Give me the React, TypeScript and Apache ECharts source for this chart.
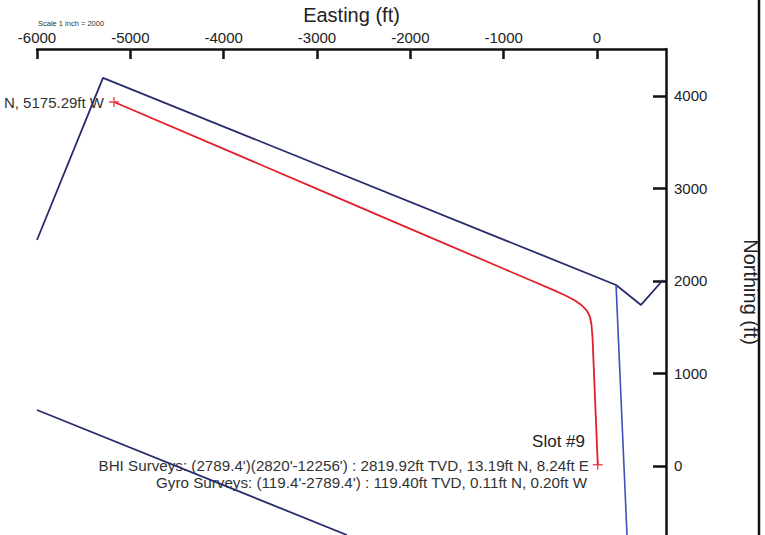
import React, { useEffect, useRef } from "react";
import * as echarts from "echarts";

// Axis ticks
const eastingTicks = [-6000, -5000, -4000, -3000, -2000, -1000, 0];
const northingTicks = [0, 1000, 2000, 3000, 4000];

// Wellpath (red) – Easting / Northing (ft)
const wellEast = [-5175, -4000, -3000, -2000, -1000, -718, -471, -343, -236, -161, -107, -75, -59, -48, 8];
const wellNorth = [3935, 3428, 2996, 2564, 2132, 2011, 1904, 1846, 1789, 1735, 1676, 1611, 1524, 1384, 13];

// Lease / boundary lines
const boundAEast = [-6000, -5293, 204, 471, 707];
const boundANorth = [2443, 4195, 1957, 1741, 2011];
const boundBEast = [204, 321];
const boundBNorth = [1957, -746];
const boundCEast = [-6000, -2679];
const boundCNorth = [605, -746];

// End markers
const markEast = [-5175, 8];
const markNorth = [3935, 13];

const zip = (xs: number[], ys: number[]) => xs.map((x, i) => [x, ys[i]]);

const FONT = "Liberation Sans, Arial, sans-serif";
const PLUS = "path://M4.3,0H5.7V4.3H10V5.7H5.7V10H4.3V5.7H0V4.3H4.3Z";

export default function App() {
  const ref = useRef<HTMLDivElement>(null);
  useEffect(() => {
    if (!ref.current) return;
    const chart = echarts.init(ref.current, null, { renderer: "svg" });
    chart.setOption({
      animation: false,
      backgroundColor: "#ffffff",
      textStyle: { fontFamily: FONT },
      grid: { left: 37, right: 99, top: 49, bottom: 0, containLabel: false, outerBoundsMode: "none" },
      xAxis: {
        type: "value",
        position: "top",
        min: -6000,
        max: 739,
        name: "Easting (ft)",
        nameLocation: "middle",
        nameGap: 24,
        nameTextStyle: { fontSize: 20, color: "#222", fontFamily: FONT },
        axisLine: { show: true, onZero: false, lineStyle: { color: "#111", width: 2.5 } },
        axisTick: { show: true, inside: true, length: 10, lineStyle: { color: "#111", width: 2.5 }, customValues: eastingTicks },
        axisLabel: {
          show: true,
          margin: 4,
          fontSize: 15,
          color: "#222",
          fontFamily: FONT,
          customValues: eastingTicks,
          formatter: (v: number) => String(v),
        },
        splitLine: { show: false },
      },
      yAxis: {
        type: "value",
        position: "right",
        min: -746,
        max: 4508,
        name: "Northing (ft)",
        nameLocation: "middle",
        nameRotate: -90,
        nameGap: 75,
        nameTextStyle: { fontSize: 20, color: "#222", fontFamily: FONT },
        axisLine: { show: true, onZero: false, lineStyle: { color: "#111", width: 2.5 } },
        axisTick: { show: true, inside: true, length: 13, lineStyle: { color: "#111", width: 2.5 }, customValues: northingTicks },
        axisLabel: {
          show: true,
          margin: 8,
          fontSize: 15,
          color: "#222",
          fontFamily: FONT,
          customValues: northingTicks,
          formatter: (v: number) => String(v),
        },
        splitLine: { show: false },
      },
      series: [
        {
          type: "line",
          name: "Boundary A",
          data: zip(boundAEast, boundANorth),
          showSymbol: false,
          lineStyle: { color: "#262c6c", width: 1.8 },
          z: 2,
        },
        {
          type: "line",
          name: "Boundary B",
          data: zip(boundBEast, boundBNorth),
          showSymbol: false,
          lineStyle: { color: "#3b52b8", width: 1.6 },
          z: 2,
        },
        {
          type: "line",
          name: "Boundary C",
          data: zip(boundCEast, boundCNorth),
          showSymbol: false,
          lineStyle: { color: "#262c6c", width: 1.8 },
          z: 2,
        },
        {
          type: "line",
          name: "Wellpath",
          data: zip(wellEast, wellNorth),
          showSymbol: false,
          lineStyle: { color: "#e3202a", width: 1.8 },
          z: 3,
        },
        {
          type: "scatter",
          name: "Markers",
          data: zip(markEast, markNorth),
          symbol: PLUS,
          symbolSize: 10,
          itemStyle: { color: "#e3202a" },
          z: 4,
        },
      ],
      graphic: [
        {
          type: "line",
          shape: { x1: 759, y1: 0, x2: 759, y2: 535 },
          style: { stroke: "#111", lineWidth: 2.5 },
        },
        {
          type: "text",
          x: 38,
          y: 23,
          style: { text: "Scale 1 inch = 2000", fontSize: 7.5, fill: "#333", fontFamily: FONT, align: "left", verticalAlign: "middle" },
        },
        {
          type: "text",
          x: 104,
          y: 102,
          style: { text: "N, 5175.29ft W", fontSize: 15, fill: "#333", fontFamily: FONT, align: "right", verticalAlign: "middle" },
        },
        {
          type: "text",
          x: 585,
          y: 441,
          style: { text: "Slot #9", fontSize: 17, fill: "#222", fontFamily: FONT, align: "right", verticalAlign: "middle" },
        },
        {
          type: "text",
          x: 589,
          y: 465,
          style: {
            text: "BHI Surveys: (2789.4')(2820'-12256') : 2819.92ft TVD, 13.19ft N, 8.24ft E",
            fontSize: 15.2,
            fill: "#333",
            fontFamily: FONT,
            align: "right",
            verticalAlign: "middle",
          },
        },
        {
          type: "text",
          x: 587,
          y: 482,
          style: {
            text: "Gyro Surveys: (119.4'-2789.4') : 119.40ft TVD, 0.11ft N, 0.20ft W",
            fontSize: 15.2,
            fill: "#333",
            fontFamily: FONT,
            align: "right",
            verticalAlign: "middle",
          },
        },
      ],
    });
    return () => chart.dispose();
  }, []);
  return <div ref={ref} style={{ position: "absolute", left: 0, top: 0, width: 765, height: 535 }} />;
}
